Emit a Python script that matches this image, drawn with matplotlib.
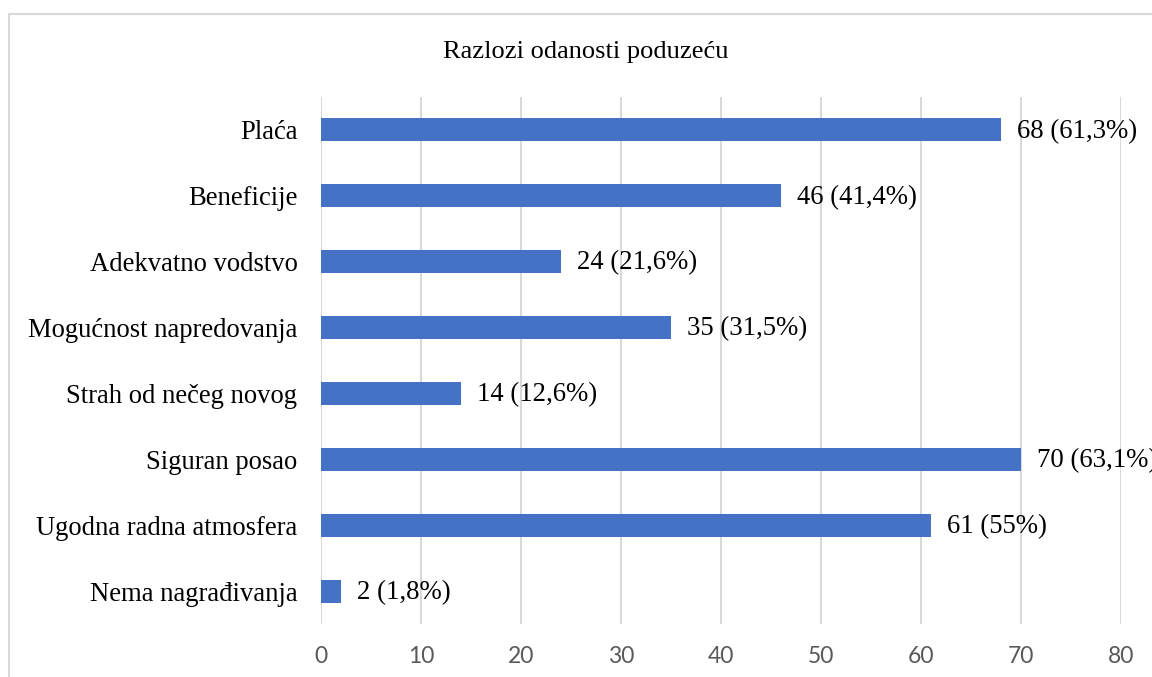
import matplotlib.pyplot as plt
from matplotlib.patches import Rectangle

categories = ["Plaća", "Beneficije", "Adekvatno vodstvo", "Mogućnost napredovanja",
              "Strah od nečeg novog", "Siguran posao", "Ugodna radna atmosfera",
              "Nema nagrađivanja"]
values = [68, 46, 24, 35, 14, 70, 61, 2]
labels = ["68 (61,3%)", "46 (41,4%)", "24 (21,6%)", "35 (31,5%)", "14 (12,6%)",
          "70 (63,1%)", "61 (55%)", "2 (1,8%)"]
xticks = [0, 10, 20, 30, 40, 50, 60, 70, 80]

serif = ["Liberation Serif", "DejaVu Serif"]

fig = plt.figure(figsize=(11.52, 6.77), dpi=100)
ax = fig.add_axes([321/1152, 1-624/677, 800/1152, 527/677])

fig.patches.append(Rectangle((9/1152, -0.1), 1.2, 1-14/677+0.1, transform=fig.transFigure,
                             fill=False, edgecolor="#D9D9D9", linewidth=1.5))

pos = list(range(len(categories)))
ax.barh(pos, values, height=0.35, color="#4472C4", zorder=3)
for p, v, l in zip(pos, values, labels):
    ax.text(v + 1.6, p + 0.02, l, va="center", ha="left", fontsize=19.3, family=serif,
            color="black", zorder=4)

ax.set_xlim(0, 80)
ax.set_ylim(len(categories) - 0.5, -0.5)
ax.set_yticks(pos)
ax.set_yticklabels(categories, family=serif, fontsize=19.2)
ax.set_xticks(xticks)
ax.set_xticklabels([str(x) for x in xticks], family=["Lato", "DejaVu Sans"],
                   fontsize=16.5, color="#595959")
ax.tick_params(axis="both", length=0)
ax.tick_params(axis="y", pad=17)
ax.tick_params(axis="x", pad=16)
ax.grid(axis="x", color="#D9D9D9", linewidth=1.5, zorder=0)
for s in ax.spines.values():
    s.set_visible(False)

fig.text(586/1152, 1-52/677, "Razlozi odanosti poduzeću", ha="center", va="center",
         fontsize=19, family=serif)

fig.savefig("out.png", dpi=100)
